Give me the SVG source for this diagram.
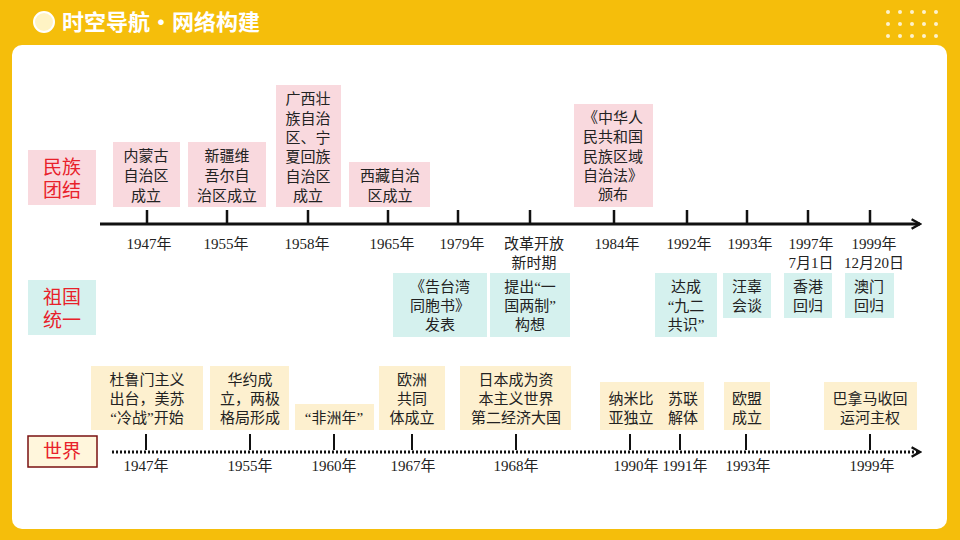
<svg xmlns="http://www.w3.org/2000/svg" width="960" height="540" viewBox="0 0 960 540">
<defs>
<style>
text{font-family:"Liberation Serif","Noto Sans CJK SC",serif;font-size:15px;fill:#222;text-anchor:middle}
.p{fill:#F9D9DE}.c{fill:#D5F1EE}.b{fill:#FDF0CF}
.lab{font-size:19px;fill:#E8212A}
.ax{stroke:#111;stroke-width:3;fill:none}
.tk{stroke:#111;stroke-width:2.5}
.dt{stroke:#111;stroke-width:3;stroke-dasharray:2 2;fill:none}
</style>
<marker id="ah" viewBox="0 0 10 10" refX="8" refY="5" markerWidth="4" markerHeight="4" orient="auto"><path d="M1,1 L8,5 L1,9" fill="none" stroke="#111" stroke-width="2"/></marker>
</defs>
<rect width="960" height="540" fill="#F5BE0B"/>
<rect x="12" y="45" width="935" height="484" rx="10" fill="#fff"/>
<circle cx="44" cy="22" r="10" fill="#FFF3C4" stroke="#fff" stroke-width="2"/>
<text x="62" y="30" style="text-anchor:start;font-family:'Noto Sans CJK SC',sans-serif;font-size:22px;font-weight:bold;fill:#fff">时空导航·网络构建</text>
<g fill="#fff" opacity="0.8">
<circle cx="888" cy="12" r="2"/><circle cx="900" cy="12" r="2"/><circle cx="912" cy="12" r="2"/><circle cx="924" cy="12" r="2"/><circle cx="936" cy="12" r="2"/>
<circle cx="888" cy="24" r="2"/><circle cx="900" cy="24" r="2"/><circle cx="912" cy="24" r="2"/><circle cx="924" cy="24" r="2"/><circle cx="936" cy="24" r="2"/>
<circle cx="888" cy="36" r="2"/><circle cx="900" cy="36" r="2"/><circle cx="912" cy="36" r="2"/><circle cx="924" cy="36" r="2"/><circle cx="936" cy="36" r="2"/>
</g>
<g id="connectors">
<line class="ax" x1="100" y1="224" x2="920" y2="224" marker-end="url(#ah)"/>
<g class="tk"><line x1="147" y1="210" x2="147" y2="224"/><line x1="227" y1="210" x2="227" y2="224"/><line x1="308" y1="210" x2="308" y2="224"/><line x1="388" y1="210" x2="388" y2="224"/><line x1="458" y1="210" x2="458" y2="224"/><line x1="530" y1="210" x2="530" y2="224"/><line x1="614" y1="210" x2="614" y2="224"/><line x1="687" y1="210" x2="687" y2="224"/><line x1="747" y1="210" x2="747" y2="224"/><line x1="808" y1="210" x2="808" y2="224"/><line x1="870" y1="210" x2="870" y2="224"/></g>
<line class="dt" x1="112" y1="452" x2="920" y2="452" marker-end="url(#ah)"/>
<g class="tk" style="stroke-width:2"><line x1="146" y1="434" x2="146" y2="450"/><line x1="250" y1="434" x2="250" y2="450"/><line x1="334" y1="434" x2="334" y2="450"/><line x1="412" y1="434" x2="412" y2="450"/><line x1="516" y1="434" x2="516" y2="450"/><line x1="630" y1="434" x2="630" y2="450"/><line x1="680" y1="434" x2="680" y2="450"/><line x1="746" y1="434" x2="746" y2="450"/><line x1="870" y1="434" x2="870" y2="450"/></g>
</g>
<g id="years">
<text x="149" y="249">1947年</text><text x="226" y="249">1955年</text><text x="307" y="249">1958年</text><text x="392" y="249">1965年</text><text x="462" y="249">1979年</text>
<text x="534" y="249">改革开放</text><text x="534" y="268">新时期</text>
<text x="617" y="249">1984年</text><text x="689" y="249">1992年</text><text x="750" y="249">1993年</text>
<text x="811" y="249">1997年</text><text x="811" y="268">7月1日</text>
<text x="874" y="249">1999年</text><text x="874" y="268">12月20日</text>
<text x="146" y="471">1947年</text><text x="250" y="471">1955年</text><text x="334" y="471">1960年</text><text x="413" y="471">1967年</text><text x="516" y="471">1968年</text><text x="636" y="471">1990年</text><text x="685" y="471">1991年</text><text x="748" y="471">1993年</text><text x="872" y="471">1999年</text>
</g>
<g id="n-minzu"><rect class="p" x="28" y="150" width="68" height="55"/><text class="lab" x="62" y="174">民族</text><text class="lab" x="62" y="197">团结</text></g>
<g id="n-zuguo"><rect class="c" x="28" y="280" width="68" height="55"/><text class="lab" x="62" y="304">祖国</text><text class="lab" x="62" y="327">统一</text></g>
<g id="n-shijie"><rect x="28" y="436" width="69" height="31" fill="#FFF6DC" stroke="#7A1010" stroke-width="1.5"/><text class="lab" x="62" y="458">世界</text></g>
<g id="n1"><rect class="p" x="113" y="142" width="67" height="65"/><text x="146" y="161">内蒙古</text><text x="146" y="181">自治区</text><text x="146" y="201">成立</text></g>
<g id="n2"><rect class="p" x="188" y="142" width="78" height="65"/><text x="227" y="161">新疆维</text><text x="227" y="181">吾尔自</text><text x="227" y="201">治区成立</text></g>
<g id="n3"><rect class="p" x="276" y="85" width="65" height="122"/><text x="308" y="104">广西壮</text><text x="308" y="124">族自治</text><text x="308" y="143">区、宁</text><text x="308" y="162">夏回族</text><text x="308" y="182">自治区</text><text x="308" y="201">成立</text></g>
<g id="n4"><rect class="p" x="349" y="162" width="81" height="45"/><text x="390" y="181">西藏自治</text><text x="390" y="201">区成立</text></g>
<g id="n5"><rect class="p" x="574" y="104" width="79" height="103"/><text x="613" y="123">《中华人</text><text x="613" y="142">民共和国</text><text x="613" y="162">民族区域</text><text x="613" y="181">自治法》</text><text x="613" y="200">颁布</text></g>
<g id="c1"><rect class="c" x="393" y="273" width="94" height="64"/><text x="440" y="292">《告台湾</text><text x="440" y="311">同胞书》</text><text x="440" y="330">发表</text></g>
<g id="c2"><rect class="c" x="490" y="273" width="80" height="64"/><text x="530" y="292">提出“一</text><text x="530" y="311">国两制”</text><text x="530" y="330">构想</text></g>
<g id="c3"><rect class="c" x="655" y="273" width="62" height="64"/><text x="686" y="292">达成</text><text x="686" y="311">“九二</text><text x="686" y="330">共识”</text></g>
<g id="c4"><rect class="c" x="723" y="273" width="48" height="45"/><text x="747" y="292">汪辜</text><text x="747" y="311">会谈</text></g>
<g id="c5"><rect class="c" x="784" y="273" width="48" height="45"/><text x="808" y="292">香港</text><text x="808" y="311">回归</text></g>
<g id="c6"><rect class="c" x="845" y="273" width="49" height="45"/><text x="869" y="292">澳门</text><text x="869" y="311">回归</text></g>
<g id="w1"><rect class="b" x="91" y="366" width="112" height="64"/><text x="147" y="385">杜鲁门主义</text><text x="147" y="404">出台，美苏</text><text x="147" y="423">“冷战”开始</text></g>
<g id="w2"><rect class="b" x="210" y="366" width="79" height="64"/><text x="250" y="385">华约成</text><text x="250" y="404">立，两极</text><text x="250" y="423">格局形成</text></g>
<g id="w3"><rect class="b" x="295" y="404" width="79" height="26"/><text x="334" y="423">“非洲年”</text></g>
<g id="w4"><rect class="b" x="379" y="366" width="66" height="64"/><text x="412" y="385">欧洲</text><text x="412" y="404">共同</text><text x="412" y="423">体成立</text></g>
<g id="w5"><rect class="b" x="460" y="366" width="111" height="64"/><text x="516" y="385">日本成为资</text><text x="516" y="404">本主义世界</text><text x="516" y="423">第二经济大国</text></g>
<g id="w6"><rect class="b" x="600" y="382" width="104" height="48"/><text x="631" y="404">纳米比</text><text x="631" y="423">亚独立</text><text x="683" y="404">苏联</text><text x="683" y="423">解体</text></g>
<g id="w7"><rect class="b" x="724" y="382" width="46" height="48"/><text x="747" y="404">欧盟</text><text x="747" y="423">成立</text></g>
<g id="w8"><rect class="b" x="824" y="382" width="93" height="48"/><text x="870" y="404">巴拿马收回</text><text x="870" y="423">运河主权</text></g>
</svg>
